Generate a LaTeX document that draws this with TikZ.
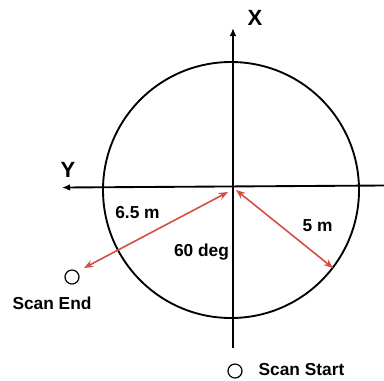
\documentclass[tikz,border=0pt]{standalone}
\usepackage{fontspec}
\setmainfont{Liberation Sans}
\usepackage{tikz}
\usepackage{xcolor}
\usetikzlibrary{arrows.meta,positioning}
\definecolor{scanred}{RGB}{214,78,66}
\colorlet{accent}{scanred}

\begin{document}
\begin{tikzpicture}[x=0.75pt, y=-0.75pt,
  lbl/.style={font=\fontsize{13}{15}\selectfont\bfseries, inner sep=1pt},
  axislbl/.style={font=\fontsize{16.5}{18}\selectfont\bfseries, inner sep=1pt},
  axisline/.style={line width=1.4pt, -{Latex[length=6pt, width=5pt]}},
  marker/.style={circle, draw, line width=0.9pt, minimum size=10.5pt, inner sep=0pt},
  rangearrow/.style={accent, line width=1.2pt, {Stealth[length=7pt, width=5.5pt]}-{Stealth[length=7pt, width=5.5pt]}}]
  \useasboundingbox (0,0) rectangle (384,380);
  % scan area
  \draw[line width=1.4pt] (231,190) circle (128);
  % axes
  \coordinate (o) at (233,186);
  \coordinate (xbot) at (233,348);
  \coordinate (xtop) at (233,28);
  \coordinate (yright) at (384,185.5);
  \coordinate (yleft) at (62,187.5);
  \draw[axisline] (xbot) -- (xtop);
  \draw[axisline] (yright) -- (yleft);
  \node[axislbl] (xlab) at (255,18) {X};
  \node[axislbl] (ylab) at (68,170) {Y};
  % scan positions
  \node[marker] (endpt) at (72,277) {};
  \node[lbl] (endlab) at (52,303) {Scan End};
  \node[marker] (startpt) at (235,371) {};
  \node[lbl, anchor=west] (startlab) at (257,370) {Scan Start};
  % ranges
  \coordinate (endtail) at (228,192);
  \coordinate (endtip) at (84,268);
  \coordinate (starttail) at (236,190);
  \coordinate (starttip) at (333,268);
  \draw[rangearrow] (endtail) -- (endtip);
  \draw[rangearrow] (starttail) -- (starttip);
  \node[lbl] (longlab) at (137.5,213) {6.5 m};
  \node[lbl] (shortlab) at (317.5,226) {5 m};
  \node[lbl] (anglab) at (201.5,252) {60 deg};
\end{tikzpicture}
\end{document}
